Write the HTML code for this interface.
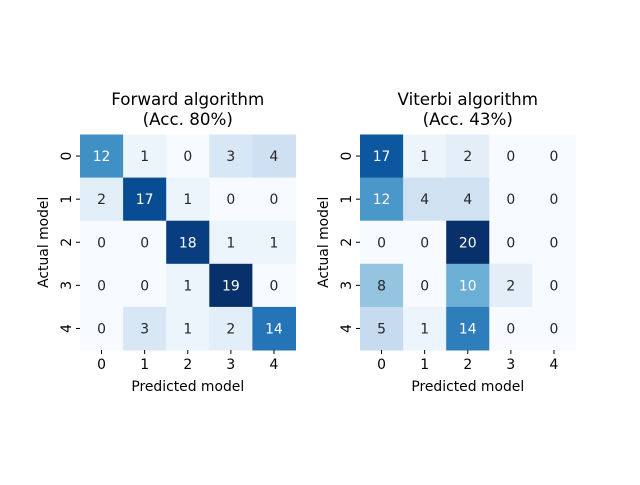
<!DOCTYPE html>
<html><head><meta charset="utf-8"><style>
body{margin:0;background:#fff;font-family:"Liberation Sans","DejaVu Sans",sans-serif}
svg text{font-family:"DejaVu Sans","Liberation Sans",sans-serif}
</style></head><body>
<svg id="c" width="640" height="480" xmlns="http://www.w3.org/2000/svg"></svg>
<script>
const labels = ["0","1","2","3","4"];
const forwardValues = [[12,1,0,3,4],[2,17,1,0,0],[0,0,18,1,1],[0,0,1,19,0],[0,3,1,2,14]];
const viterbiValues = [[17,1,2,0,0],[12,4,4,0,0],[0,0,20,0,0],[8,0,10,2,0],[5,1,14,0,0]];
const titles = ["Forward algorithm","Viterbi algorithm"];
const subtitles = ["(Acc. 80%)","(Acc. 43%)"];
const stops=[[247,251,255],[222,235,247],[198,219,239],[158,202,225],[107,174,214],[66,146,198],[33,113,181],[8,81,156],[8,48,107]];
function blues(t){t=Math.max(0,Math.min(1,t));const p=t*8,i=Math.min(7,Math.floor(p)),f=p-i;
 return stops[i].map((v,k)=>Math.round(v+(stops[i+1][k]-v)*f));}
function lum(c){const l=c.map(v=>{v/=255;return v<=0.03928?v/12.92:Math.pow((v+0.055)/1.055,2.4)});return 0.2126*l[0]+0.7152*l[1]+0.0722*l[2];}
const svg=document.getElementById('c');const NS="http://www.w3.org/2000/svg";
function mk(tag,attrs,txt){const e=document.createElementNS(NS,tag);for(const k in attrs)e.setAttribute(k,attrs[k]);if(txt!==undefined)e.textContent=txt;svg.appendChild(e);return e;}
const panels=[{x0:80,vals:forwardValues,key:'forward'},{x0:360,vals:viterbiValues,key:'viterbi'}];
const y0=134.5,size=215.5,n=labels.length,cw=size/n;
panels.forEach((p,pi)=>{
 const vals=p.vals;let mx=0,mn=1e9;vals.forEach(r=>r.forEach(v=>{mx=Math.max(mx,v);mn=Math.min(mn,v);}));
 const xs=j=>p.x0+j*cw, ys=i=>y0+i*cw;
 vals.forEach((row,i)=>row.forEach((v,j)=>{
  const c=blues((v-mn)/(mx-mn));
  const r=mk('rect',{x:xs(j),y:ys(i),width:cw+0.5,height:cw+0.5,fill:`rgb(${c})`});
  
  
  const t=mk('text',{x:xs(j)+cw/2,y:ys(i)+cw/2+5,'text-anchor':'middle','font-size':'13.9',fill:lum(c)>0.408?'#262626':'#ffffff'},String(v));
  
  
 }));
 labels.forEach((l,k)=>{
  mk('line',{x1:xs(k)+cw/2,x2:xs(k)+cw/2,y1:y0+size,y2:y0+size+4,stroke:'#000','stroke-width':1});
  const tx=mk('text',{x:xs(k)+cw/2,y:y0+size+19,'text-anchor':'middle','font-size':'13.9',fill:'#000'},l);
  
  
  mk('line',{x1:p.x0-4,x2:p.x0,y1:ys(k)+cw/2,y2:ys(k)+cw/2,stroke:'#000','stroke-width':1});
  const cx=p.x0-14,cy=ys(k)+cw/2;
  const ty=mk('text',{x:cx,y:cy+5,'text-anchor':'middle','font-size':'13.9',fill:'#000',transform:`rotate(-90 ${cx} ${cy})`},l);
  
  
 });
 const cxm=p.x0+size/2;
 const t1=mk('text',{x:cxm,y:105,'text-anchor':'middle','font-size':'16.7',fill:'#000'},titles[pi]);
 
 const t2=mk('text',{x:cxm,y:125,'text-anchor':'middle','font-size':'16.7',fill:'#000'},subtitles[pi]);
 
 const xl=mk('text',{x:cxm,y:391,'text-anchor':'middle','font-size':'13.9',fill:'#000'},'Predicted model');
 
 const ax=p.x0-37,ay=y0+size/2;
 const yl=mk('text',{x:ax,y:ay+5,'text-anchor':'middle','font-size':'13.9',fill:'#000',transform:`rotate(-90 ${ax} ${ay})`},'Actual model');
 
});
</script>
</body></html>
